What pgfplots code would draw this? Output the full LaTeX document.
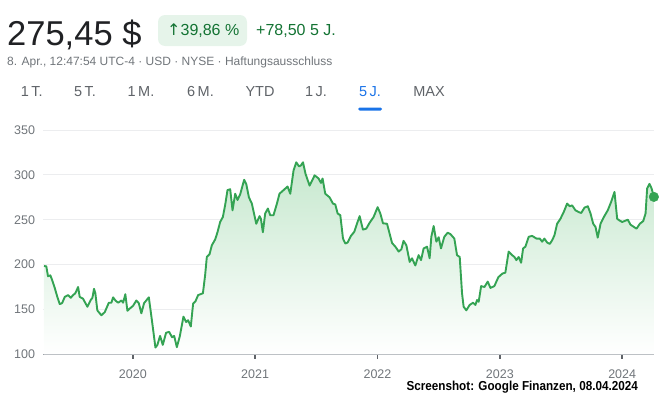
\documentclass[border=0pt]{standalone}
\usepackage{graphicx}
\usepackage{pgfplots}
\pgfplotsset{compat=1.18}
\usepackage{pgfplotstable}
\usepackage{fontspec}
\setmainfont{Liberation Sans}
\newfontfamily\symfont{DejaVu Sans}
\definecolor{lineg}{RGB}{52,163,83}
\definecolor{fillg}{RGB}{198,232,206}
\definecolor{darkg}{RGB}{19,115,51}
\definecolor{badge}{RGB}{230,244,234}
\definecolor{txt}{RGB}{32,33,36}
\definecolor{sub}{RGB}{95,99,104}
\definecolor{lab}{RGB}{112,117,122}
\definecolor{gridc}{RGB}{236,237,239}
\definecolor{axisc}{RGB}{154,160,166}
\definecolor{tickc}{RGB}{95,99,104}
\definecolor{tabblue}{RGB}{26,115,232}

\pgfplotstableread{
x y
2019.274 198.5
2019.293 198
2019.307 187
2019.326 188
2019.340 183
2019.362 174
2019.383 164
2019.403 156
2019.422 157
2019.444 164
2019.471 166
2019.493 163
2019.512 166
2019.530 168
2019.553 175
2019.566 164
2019.593 162
2019.629 153
2019.656 160.5
2019.670 163
2019.683 173
2019.694 168
2019.710 149
2019.743 143.5
2019.771 147
2019.804 157.5
2019.825 157.5
2019.839 163.5
2019.858 160
2019.880 157.5
2019.907 160
2019.921 157.5
2019.939 167
2019.956 148.5
2019.975 151
2020.002 154
2020.029 160
2020.049 157
2020.070 145.7
2020.092 157
2020.131 163.5
2020.158 136
2020.185 107.5
2020.201 110.5
2020.223 120.5
2020.245 110.5
2020.272 124
2020.297 125
2020.321 119
2020.338 120.5
2020.360 108
2020.384 120
2020.414 142
2020.436 136
2020.452 138
2020.474 131
2020.493 156.5
2020.512 159
2020.534 166
2020.573 168
2020.591 188
2020.605 208.5
2020.627 211.5
2020.646 221.5
2020.673 228
2020.692 236
2020.714 247.5
2020.736 253
2020.755 266.5
2020.774 283
2020.796 284
2020.815 260.5
2020.837 279
2020.856 272
2020.878 278.5
2020.910 294.5
2020.927 290
2020.949 275
2020.973 268
2021.009 245.5
2021.036 254
2021.047 251
2021.063 236
2021.082 257
2021.104 262.5
2021.123 255
2021.150 255
2021.178 268
2021.199 279
2021.232 283
2021.265 287
2021.287 279
2021.314 305
2021.336 314
2021.358 309.5
2021.374 310.5
2021.391 314
2021.412 301
2021.445 288
2021.467 294
2021.486 299.5
2021.518 296
2021.538 291
2021.551 296
2021.573 279
2021.608 275
2021.636 268
2021.655 267
2021.674 257
2021.696 255
2021.718 229
2021.737 223.5
2021.755 224.5
2021.783 232
2021.810 236.5
2021.837 247.5
2021.854 254
2021.881 239
2021.908 240
2021.935 246.5
2021.968 253
2022.001 264
2022.023 257
2022.045 246
2022.078 245.5
2022.119 224
2022.146 220
2022.173 214.5
2022.195 217
2022.213 226.5
2022.236 221.5
2022.263 203
2022.282 207
2022.309 199
2022.336 210.5
2022.356 205
2022.377 218
2022.405 220
2022.426 207
2022.440 231
2022.459 243
2022.481 225.5
2022.500 230.5
2022.519 218
2022.546 231
2022.573 235.5
2022.596 234
2022.628 229
2022.650 210.5
2022.672 208.5
2022.691 168
2022.704 153
2022.726 149
2022.753 155
2022.781 157.5
2022.800 155
2022.814 160.5
2022.827 158.5
2022.847 176
2022.874 175
2022.901 181
2022.923 174
2022.955 176
2022.988 186
2023.021 190
2023.045 191
2023.072 214.5
2023.100 210.5
2023.119 208.5
2023.135 205
2023.154 208.5
2023.174 202
2023.190 218
2023.209 220
2023.236 231
2023.264 232
2023.299 229
2023.326 229
2023.346 225.5
2023.364 229
2023.387 224.5
2023.408 223
2023.427 227
2023.446 232.5
2023.468 245.5
2023.495 251
2023.522 258.5
2023.550 268
2023.571 265
2023.591 266
2023.618 260.5
2023.645 258.5
2023.665 257.5
2023.692 263.5
2023.719 265
2023.741 257
2023.763 245.5
2023.782 242
2023.800 230
2023.823 245.5
2023.850 253
2023.882 260.5
2023.910 270
2023.937 281
2023.959 251
2023.980 249
2024.000 247.5
2024.027 249
2024.046 250
2024.068 244.5
2024.095 242
2024.117 240
2024.144 245.5
2024.172 248.5
2024.191 257
2024.204 285
2024.223 290
2024.240 285
2024.259 275.45
}\price

\begin{document}
\begin{tikzpicture}
\path[use as bounding box] (0bp,0bp) rectangle (670bp,-397bp);
\begin{axis}[
  at={(43bp,-354.3bp)}, anchor=south west,
  width=611bp, height=224.3bp, scale only axis,
  xmin=2019.266, xmax=2024.26, ymin=100, ymax=350,
  ytick={100,150,...,350},
  xtick={2020,2021,2022,2023,2024},
  axis x line*=bottom, axis y line*=left,
  x axis line style={draw=axisc, line width=1bp, -},
  y axis line style={draw=none},
  ymajorgrids, grid style={draw=gridc, line width=0.8bp},
  tick align=outside,
  xtick style={draw=tickc, line width=1.5bp},
  ytick style={draw=none},
  major tick length=4.5bp,
  ticklabel style={font=\fontsize{12.5bp}{14bp}\selectfont, text=lab},
  yticklabel style={xshift=0bp},
  xticklabel style={yshift=-7bp},
  /pgf/number format/assume math mode=true,
  /pgf/number format/1000 sep={},
  clip=false,
]
\addplot[draw=none, top color=fillg, bottom color=white] table {\price} -- (axis cs:2024.259,100) -- (axis cs:2019.274,100) -- cycle;
\addplot[lineg, line width=1.9bp, line join=round] table {\price};
\addplot[only marks, mark=*, mark size=4.8bp, color=lineg] coordinates {(2024.259,275.45)};
\end{axis}
\begin{scope}[x=1bp,y=1bp]
\node[anchor=base west, inner sep=0, text=txt, font=\fontsize{34.5bp}{40bp}\selectfont] at (7,-45) {275,45 \$};
\fill[badge, rounded corners=7bp] (158,-15) rectangle (247,-46);
\node[anchor=base west, inner sep=0, text=darkg, font=\fontsize{16bp}{18bp}\selectfont] at (167,-35.5) {{\symfont ↑}39,86 \%};
\node[anchor=base west, inner sep=0, text=darkg, font=\fontsize{16bp}{18bp}\selectfont] at (256,-35.5) {+78,50 5 J.};
\node[anchor=base west, inner sep=0, text=lab, font=\fontsize{12bp}{14bp}\selectfont] at (7,-65) {8. Apr., 12:47:54 UTC-4 · USD · NYSE · Haftungsausschluss};
\foreach \cx/\lbl in {31.7/1\,T., 85/5\,T., 141/1\,M., 200.5/6\,M., 260/YTD, 316/1\,J., 429/MAX}{
  \node[anchor=base, inner sep=0, text=sub, font=\fontsize{14.5bp}{17bp}\selectfont] at (\cx,-96.7) {\lbl};
}
\node[anchor=base, inner sep=0, text=tabblue, font=\fontsize{14.5bp}{17bp}\selectfont] at (370,-96.7) {5\,J.};
\fill[tabblue, rounded corners=1.5bp] (358,-107.5) rectangle (382,-110.5);
\node[anchor=base east, inner sep=0, text=black, font=\bfseries\fontsize{13bp}{15bp}\selectfont] at (638,-390) {\scalebox{0.9}[1]{Screenshot: Google Finanzen, 08.04.2024}};
\end{scope}
\end{tikzpicture}
\end{document}
